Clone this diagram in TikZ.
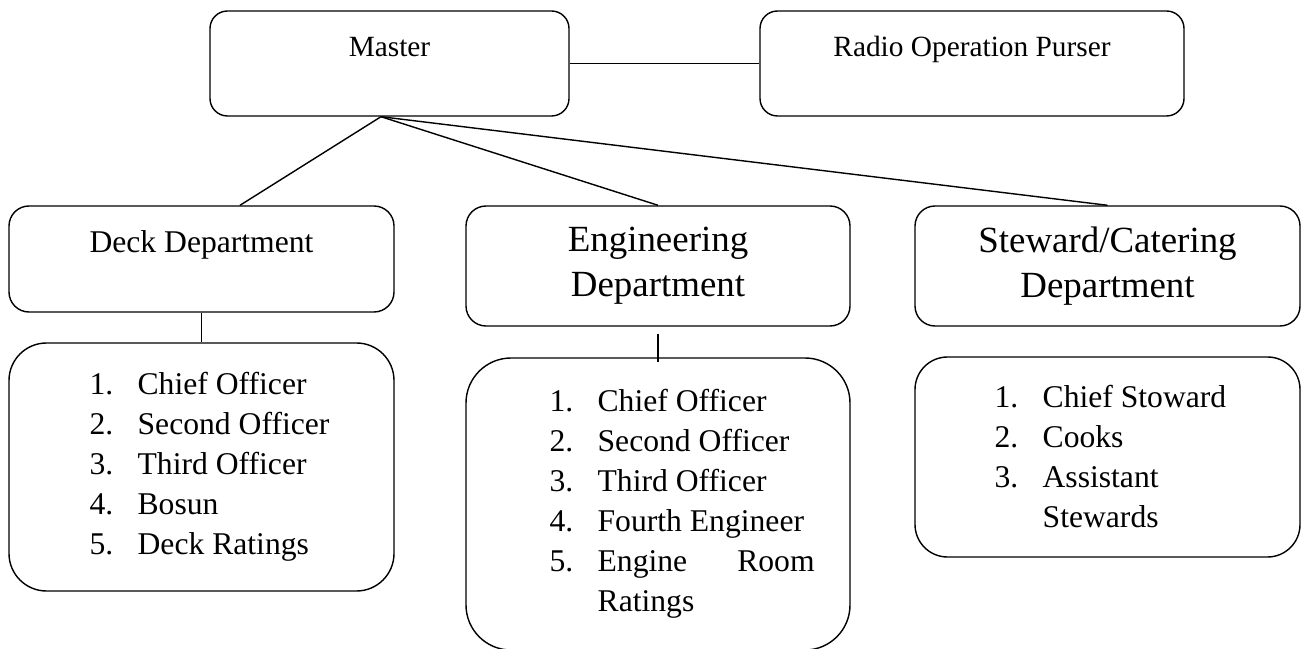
\documentclass[tikz,border=0pt]{standalone}
\usepackage{fontspec}
\setmainfont{Liberation Serif}
\usetikzlibrary{calc,positioning}

% numbered crew line: number column, then the rank
\newcommand{\crewitem}[2]{\makebox[0.96cm][l]{#1.}#2}

\begin{document}
\begin{tikzpicture}[
  rolebox/.style={draw, line width=0.8pt, rounded corners=0.35cm,
    minimum height=2.1cm, text height=0.45cm, text depth=0.72cm,
    font=\fontsize{16.7}{20}\selectfont},
  deptbox/.style={draw, line width=0.8pt, rounded corners=0.4cm,
    minimum width=7.7cm, align=center},
  crewbox/.style={draw, line width=0.8pt, minimum width=7.7cm},
  crewitems/.style={anchor=west, inner sep=0pt, align=left,
    font=\fontsize{18}{22.76}\selectfont},
  link/.style={line width=0.8pt},
]

% ===== Overall dimensions =====
% canvas 26.02 x 12.96, one reference pixel = 0.02
\useasboundingbox (0,0) rectangle (26.02,12.96);

%% ---- TOP ROW: Master and radio ----
\node[rolebox, minimum width=7.18cm] (master) at (7.79, 11.69) {Master};
\node[rolebox, minimum width=8.48cm] (radio) at (19.44, 11.69)
  {Radio Operation Purser};
\draw[link] (master.east) -- (radio.west);

%% ---- DEPARTMENTS ----
\node[deptbox, minimum height=2.12cm, text height=0.45cm, text depth=0.72cm,
      font=\fontsize{18}{22}\selectfont] (deck) at (4.03, 7.78)
  {Deck Department};
\node[deptbox, minimum width=7.68cm, minimum height=2.4cm,
      font=\fontsize{21}{25.6}\selectfont] (eng) at (13.16, 7.64)
  {Engineering\\Department};
\node[deptbox, minimum height=2.4cm,
      font=\fontsize{21}{25.6}\selectfont] (steward) at (22.15, 7.64)
  {Steward/Catering\\Department};

% lines fanning out of the master box
\coordinate (hub) at ($(master.south)+(-0.17,0)$);
\draw[link] (hub) -- ($(deck.north)+(0.77,0)$);
\draw[link] (hub) -- (eng.north);
\draw[link] (hub) -- (steward.north);

%% ---- CREW LISTS ----
% Deck
\node[crewbox, rounded corners=0.75cm, minimum height=4.96cm] (decklist)
  at (4.03, 3.62) {};
\node[crewitems, xshift=1.62cm] (deckitems) at (decklist.west) {
  \crewitem{1}{Chief Officer}\\
  \crewitem{2}{Second Officer}\\
  \crewitem{3}{Third Officer}\\
  \crewitem{4}{Bosun}\\
  \crewitem{5}{Deck Ratings}};
\draw[link] (deck.south) -- (decklist.north);

% Engineering
\node[crewbox, rounded corners=0.9cm, minimum width=7.68cm,
      minimum height=5.84cm] (englist) at (13.16, 2.88) {};
\node[crewitems, xshift=1.68cm] (engitems) at (englist.west) {
  \crewitem{1}{Chief Officer}\\
  \crewitem{2}{Second Officer}\\
  \crewitem{3}{Third Officer}\\
  \crewitem{4}{Fourth Engineer}\\
  \crewitem{5}{\makebox[4.34cm][l]{Engine\hfill Room}}\\
  \hspace*{0.96cm}Ratings};
\draw[link, shorten <=0.14cm, shorten >=-0.1cm] (eng.south) -- (englist.north);

% Steward/Catering
\node[crewbox, rounded corners=0.65cm, minimum height=4.0cm] (stewlist)
  at (22.15, 3.82) {};
\node[crewitems, xshift=1.6cm] (stewitems) at (stewlist.west) {
  \crewitem{1}{Chief Stoward}\\
  \crewitem{2}{Cooks}\\
  \crewitem{3}{Assistant}\\
  \hspace*{0.96cm}Stewards};

\end{tikzpicture}
\end{document}
